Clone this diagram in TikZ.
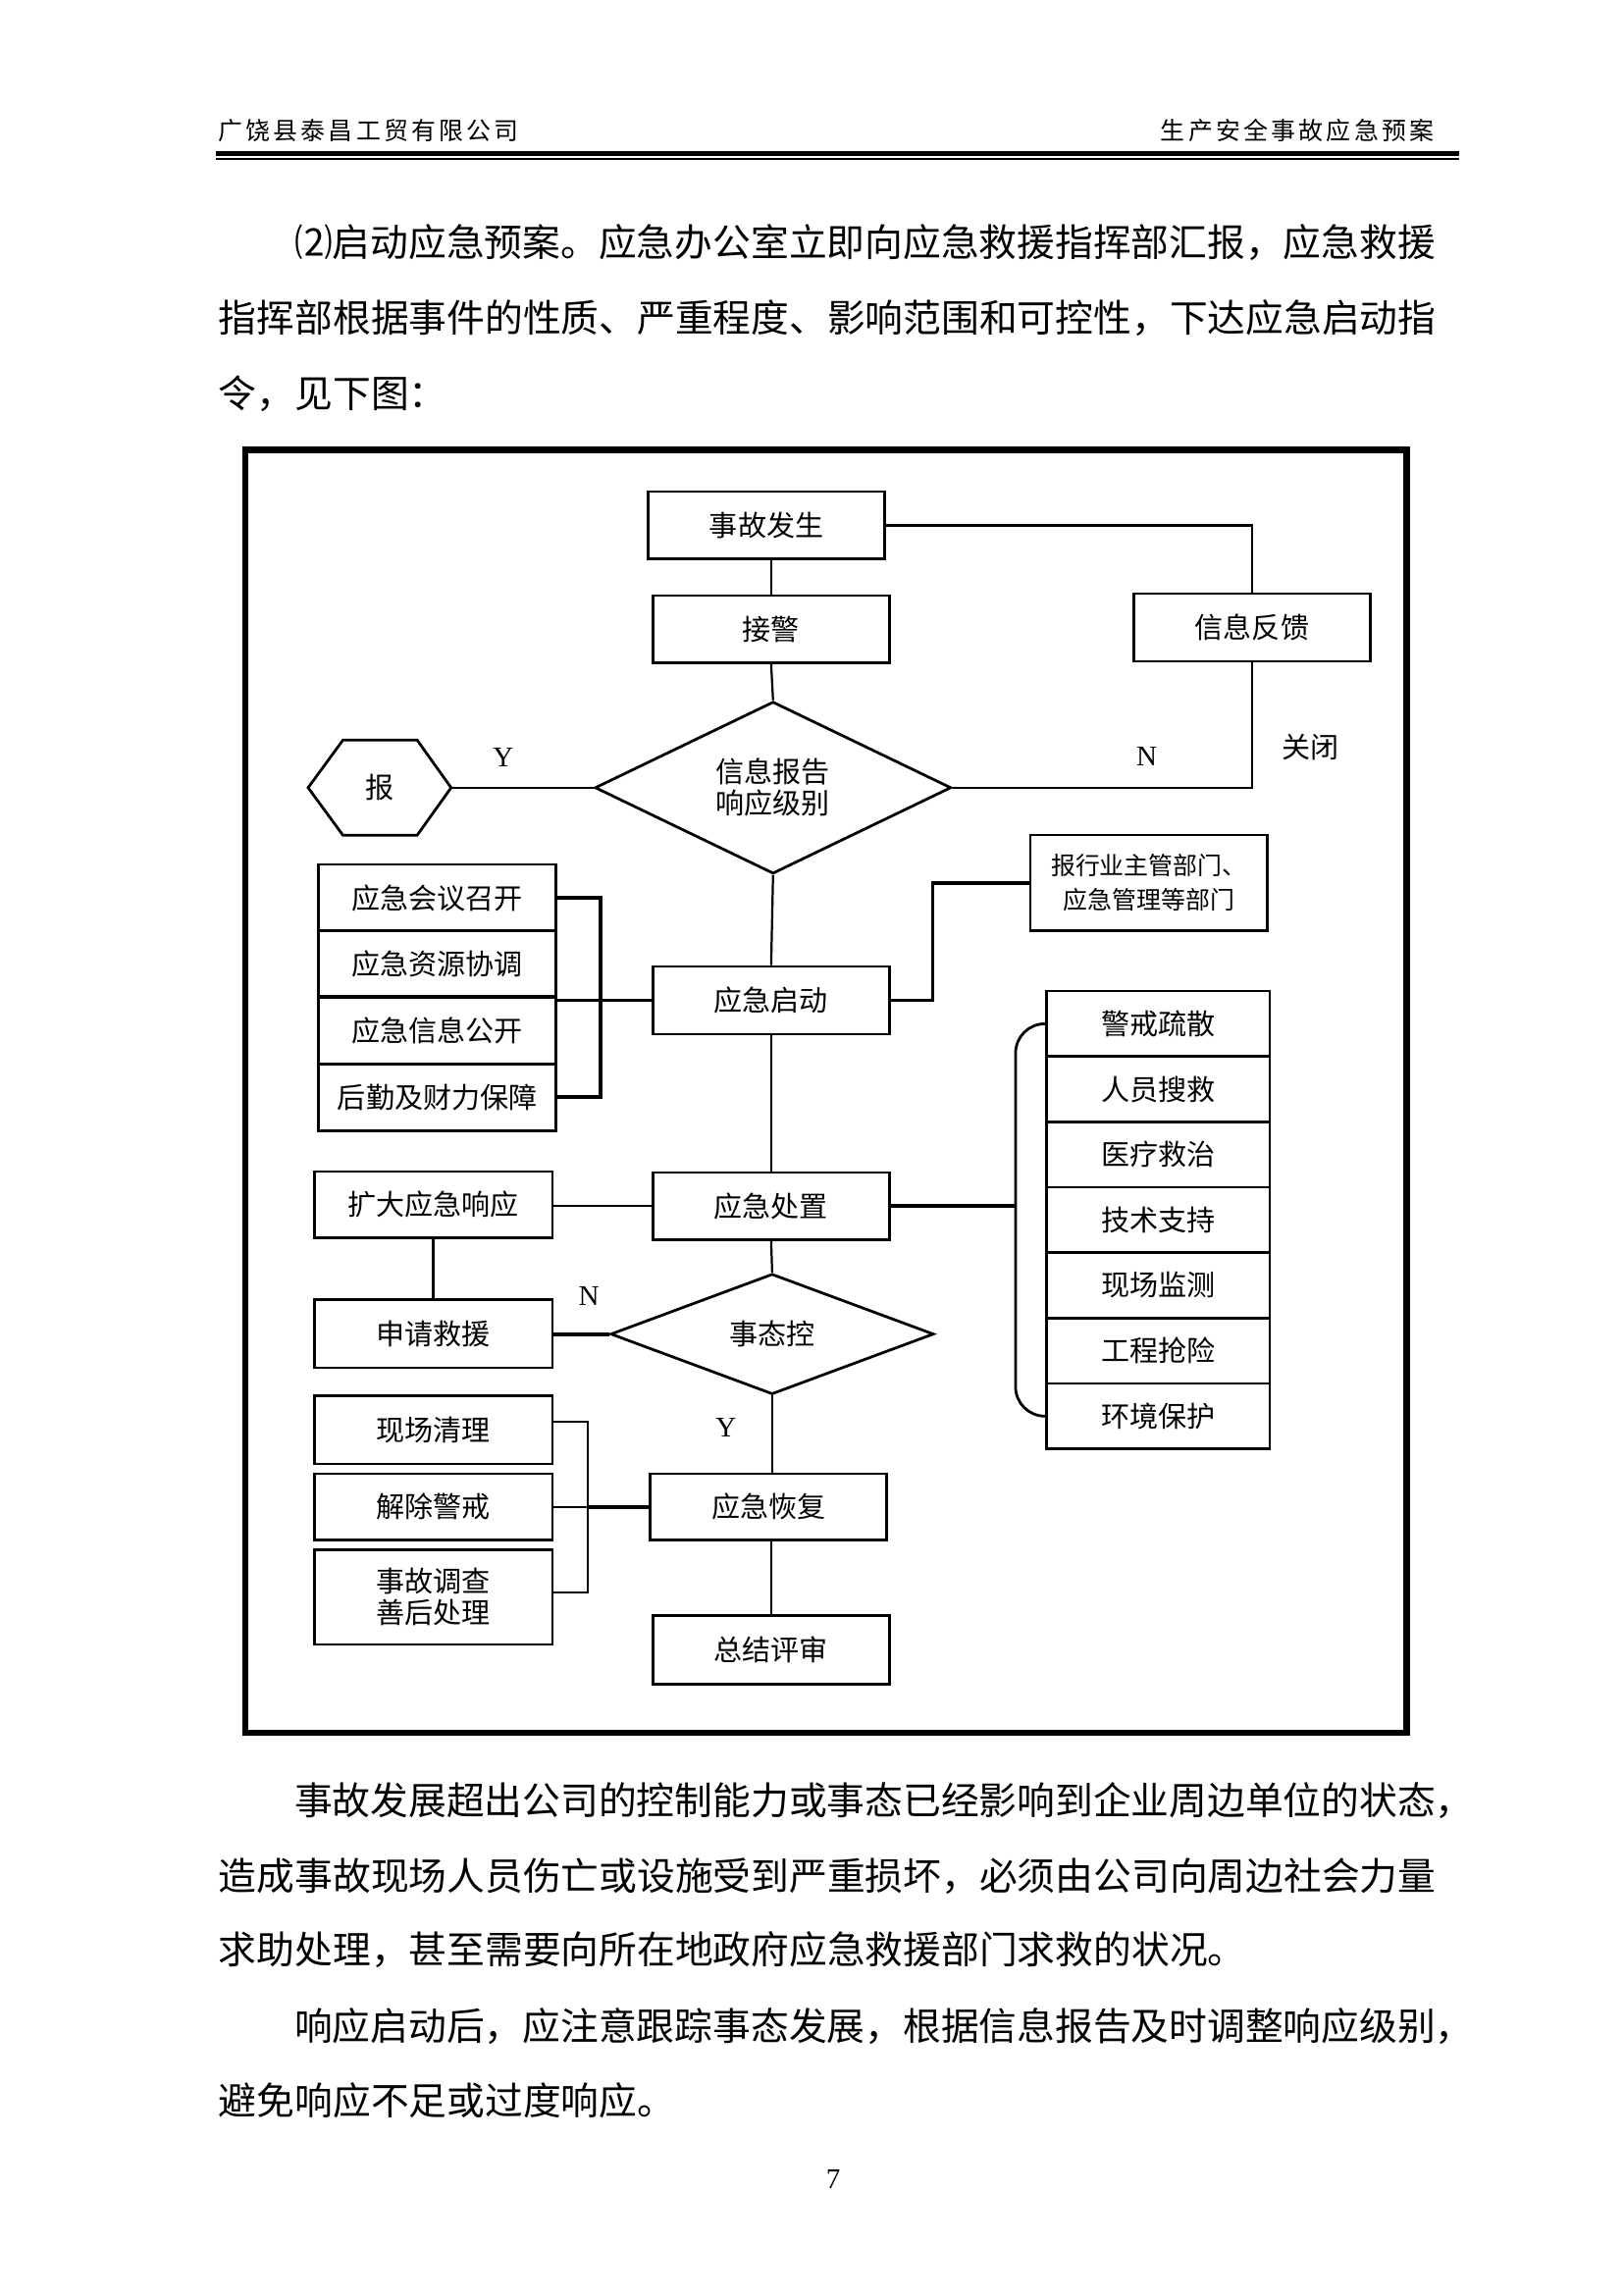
\documentclass[tikz,border=0pt]{standalone}
\usepackage{fontspec}
\setmainfont{Noto Sans CJK SC}
\newfontfamily\latinfont{Liberation Serif}
\newfontfamily\headfont[LetterSpace=13]{Noto Sans CJK SC}
\usetikzlibrary{shapes.geometric}
\usetikzlibrary{positioning}
\newlength{\px}
\setlength{\px}{0.19005mm}
\newcommand{\bodyfont}{\fontsize{14pt}{28pt}\selectfont}
\newcommand{\boxfont}{\fontsize{10.5pt}{11.5pt}\selectfont}
\newcommand{\smallboxfont}{\fontsize{9pt}{12.6pt}\selectfont}
\newcommand{\bodyline}[4]{\node[bodytext] (#1) at (#2,#3) {#4};}
\newcommand{\yn}[4]{\node[ynlabel] (#1) at (#2,#3) {#4};}
\tikzset{
	box/.style={draw, line width=1pt, minimum width=160.7\px, minimum height=46\px, inner sep=0pt, align=center, font=\boxfont},
	decision/.style={draw, diamond, line width=1pt, inner sep=0pt, align=center, font=\boxfont},
	link/.style={line width=0.8pt},
	heavy/.style={line width=1.4pt},
	bodytext/.style={anchor=west, inner sep=0pt, font=\bodyfont},
	ynlabel/.style={inner sep=0pt, font=\latinfont\fontsize{10.5pt}{12pt}\selectfont},
}

\begin{document}
\begin{tikzpicture}[x=0.019005cm, y=-0.019005cm]

					\fill[white] (0,0) rectangle (1105,1561.7);
					\useasboundingbox (0,0) rectangle (1105,1561.7);

					% page header
					\node[anchor=west, inner sep=0pt, font=\headfont\fontsize{9pt}{11pt}\selectfont] (hdleft) at (148,88.7) {广饶县泰昌工贸有限公司};
					\node[anchor=east, inner sep=0pt, font=\headfont\fontsize{9pt}{11pt}\selectfont] (hdright) at (976,88.7) {生产安全事故应急预案};
					\draw[line width=1.8pt] (146.6,104.5) -- (993,104.5);
					\draw[line width=0.55pt] (146.6,108.3) -- (993,108.3);

					\bodyline{pa}{200}{165}{⑵启动应急预案。应急办公室立即向应急救援指挥部汇报，应急救援}
					\bodyline{pb}{148.5}{216.5}{指挥部根据事件的性质、严重程度、影响范围和可控性，下达应急启动指}
					\bodyline{pc}{148.5}{268}{令，见下图：}

					% frame
					\draw[line width=2.4pt] (167,306) rectangle (957,1179);

					\node[box] (sgfs) at (521.5,357.5) {事故发生};
					\node[box] (jiejing) at (524.7,428.2) {接警};
					\node[box] (xxfk) at (851.9,427) {信息反馈};
					\node[decision, minimum width=242.5\px, minimum height=115.3\px] (xxbg) at (526,536) {信息报告\\响应级别};
					\node[inner sep=0pt, minimum width=96.6\px, minimum height=64\px, font=\boxfont] (bao) at (258.3,536) {报};
					\draw[line width=1pt] (bao.west) -- ([xshift=23.7\px]bao.north west) -- ([xshift=-23.1\px]bao.north east) -- (bao.east)
						-- ([xshift=-23.1\px]bao.south east) -- ([xshift=23.7\px]bao.south west) -- cycle;
					\node[box, minimum width=161.3\px, minimum height=65\px, font=\smallboxfont] (bgbm) at (781.7,600.7) {报行业主管部门、\\应急管理等部门};

					\node[box, minimum width=161.8\px, minimum height=45.5\px] (hyzk) at (297.6,610.9) {应急会议召开};
					\node[box, minimum width=161.8\px, minimum height=45.5\px] (zyxt) at (297.6,655.9) {应急资源协调};
					\node[box, minimum width=161.8\px, minimum height=45.5\px] (xxgk) at (297.6,701) {应急信息公开};
					\node[box, minimum width=161.8\px, minimum height=45.5\px] (hqbz) at (297.6,746.7) {后勤及财力保障};

					\node[box] (qidong) at (524.7,680.7) {应急启动};
					\node[box, minimum height=45.6\px] (chuzhi) at (524.7,820.7) {应急处置};
					\node[box, minimum width=162.2\px, minimum height=45.2\px] (kuoda) at (294.8,819.8) {扩大应急响应};

					% right stack
					\foreach \name/\txt [count=\i from 0] in {jjss/警戒疏散, rysj/人员搜救, ylzj/医疗救治, jszc/技术支持, xcjc/现场监测, gcqx/工程抢险, hjbh/环境保护}
						\node[box, minimum width=152\px, minimum height=44.5\px] (\name) at (788,696.65+44.5*\i) {\txt};

					\node[box, minimum width=162.2\px, minimum height=46.6\px] (shenqing) at (294.8,907.5) {申请救援};
					\node[decision, minimum width=220\px, minimum height=82\px] (stk) at (525.4,907.8) {事态控};
					\node[box, minimum height=45\px] (huifu) at (522.9,1025.3) {应急恢复};
					\node[box, minimum width=162.2\px, minimum height=46.3\px] (xcql) at (294.8,973) {现场清理};
					\node[box, minimum width=162.2\px, minimum height=45\px] (jcjj) at (294.8,1025.3) {解除警戒};
					\node[box, minimum width=162.2\px, minimum height=64.5\px] (sgdc) at (294.8,1086.8) {事故调查\\善后处理};
					\node[box, minimum height=46.3\px] (zjps) at (524.7,1122.7) {总结评审};

					\coordinate (lbr) at (408.8,0);
					\coordinate (lbr2) at (400,0);
					\coordinate (rbr) at (691,0);

					% connectors
					\draw[link] (sgfs.south -| jiejing) -- (jiejing.north);
					\draw[link] (sgfs.east) -| (xxfk.north);
					\draw[link] (xxfk.south) |- (xxbg.east);
					\draw[link] (bao.east) -- (xxbg.west);
					\draw[link] (jiejing.south) -- (xxbg.north);
					\draw[link] (xxbg.south) -- (qidong.north);
					\draw[heavy] (qidong.east) -- ++(28.7,0) |- (bgbm.west);
					\draw[heavy] (hyzk.east) -- (hyzk.east -| lbr) -- (hqbz.east -| lbr) -- (hqbz.east);
					\draw[heavy] (qidong.west -| zyxt.east) -- (qidong.west);
					\draw[link] (qidong.south) -- (chuzhi.north);
					\draw[link] (chuzhi.west -| kuoda.east) -- (chuzhi.west);
					\draw[heavy] (chuzhi.east) -- (chuzhi.east -| rbr);
					\draw[link, line width=1pt, rounded corners=20\px] (jjss.west) -| (rbr |- jszc.west) |- (hjbh.west);
					\draw[link] (kuoda.south) -- (shenqing.north);
					\draw[link] (chuzhi.south) -- (stk.north);
					\draw[heavy] (stk.west) -- (stk.west -| shenqing.east);
					\draw[link] (stk.south) -- (stk.south |- huifu.north);
					\draw[link] ([yshift=5.5\px]xcql.east) -| ([yshift=3\px]sgdc.east -| lbr2) -- ([yshift=3\px]sgdc.east);
					\draw[link] (jcjj.east) -- (jcjj.east -| lbr2);
					\draw[heavy] (jcjj.east -| lbr2) -- (huifu.west);
					\draw[link] (huifu.south -| zjps) -- (zjps.north);

					% labels
					\yn{ya}{342.5}{515.2}{Y}
					\yn{na}{780.2}{514.8}{N}
					\node[inner sep=0pt, font=\boxfont] (guanbi) at (892,508.6) {关闭};
					\yn{nb}{400.6}{882}{N}
					\yn{yb}{494}{971.5}{Y}

					\bodyline{pd}{200}{1225}{事故发展超出公司的控制能力或事态已经影响到企业周边单位的状态，}
					\bodyline{pe}{148.5}{1276.5}{造成事故现场人员伤亡或设施受到严重损坏，必须由公司向周边社会力量}
					\bodyline{pf}{148.5}{1327}{求助处理，甚至需要向所在地政府应急救援部门求救的状况。}
					\bodyline{pg}{200}{1378.5}{响应启动后，应注意跟踪事态发展，根据信息报告及时调整响应级别，}
					\bodyline{ph}{148.5}{1429}{避免响应不足或过度响应。}

					\node[inner sep=0pt, font=\latinfont\fontsize{10.5pt}{12pt}\selectfont] (pageno) at (567,1483) {7};

\end{tikzpicture}
\end{document}
